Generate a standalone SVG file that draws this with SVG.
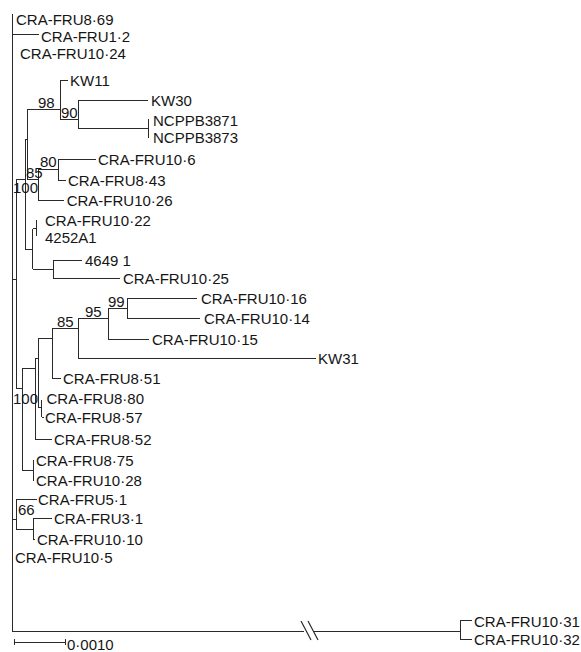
<svg xmlns="http://www.w3.org/2000/svg" width="581" height="652" viewBox="0 0 581 652">
<style>
.e{fill:none;stroke:#2a2a2a;stroke-width:1;shape-rendering:crispEdges}
.s{fill:none;stroke:#2a2a2a;stroke-width:1.2}
text{font-family:"Liberation Sans",Arial,Helvetica,sans-serif;font-size:15px;fill:#151515}
</style>
<rect width="581" height="652" fill="#fff"/>
<g id="connectors">
<path class="e" d="M12 14V631M12 34H39M12 279H16M16 179V388M16 179H25M25 139V249M25 139H27M27 109V179M27 109H60M60 80V119M60 80H68M60 119H78M78 100V128M78 100H148M78 128H148M148 119V138M27 179H38M38 169.5V200M38 169.5H58M58 159V180M58 159H96M58 180H66M38 200H64M25 249H32.7M32.7 228.5V269M32.7 228.5H36.7M36.7 220V236M32.7 269H53.3M53.3 260V278M53.3 260H82M53.3 278H120"/>
<path class="e" d="M16 388H22M22 368V470M22 368H35M35 358V439M35 358H38.3M38.3 338V407.5M38.3 338H52.3M52.3 328V378M52.3 378H61M52.3 328H78.3M78.3 318V358M78.3 358H316M78.3 318H108.3M108.3 308V339M108.3 339H149M108.3 308H127M127 298V318.5M127 298H197M127 318.5H200M38.3 407.5H41.7M41.7 400V417M41.7 417H44M35 439H52M22 470H33.3M33.3 460V481"/>
<path class="e" d="M12 519H16M16 499V529M16 499H37M16 529H33M33 518V539M33 518H52M33 539H35"/>
<path class="e" d="M12 631H304M314 631H460M460 620V639M460 620H472M460 639H472"/>
<path class="s" d="M301 621L311 640M308 621L318 640"/>
</g>
<g id="leaves">
<g id="n-CRA-FRU8-69"><text x="16" y="24.5">CRA-FRU8·69</text></g>
<g id="n-CRA-FRU1-2"><text x="41" y="41.5">CRA-FRU1·2</text></g>
<g id="n-CRA-FRU10-24"><text x="20" y="58.5">CRA-FRU10·24</text></g>
<g id="n-KW11"><text x="70" y="85.5">KW11</text></g>
<g id="n-KW30"><text x="151" y="105.5">KW30</text></g>
<g id="n-NCPPB3871"><text x="153" y="125.5">NCPPB3871</text></g>
<g id="n-NCPPB3873"><text x="153" y="142.5">NCPPB3873</text></g>
<g id="n-CRA-FRU10-6"><text x="98" y="165">CRA-FRU10·6</text></g>
<g id="n-CRA-FRU8-43"><text x="68" y="185.5">CRA-FRU8·43</text></g>
<g id="n-CRA-FRU10-26"><text x="66.7" y="205.5">CRA-FRU10·26</text></g>
<g id="n-CRA-FRU10-22"><text x="45" y="225.5">CRA-FRU10·22</text></g>
<g id="n-4252A1"><text x="45" y="242.5">4252A1</text></g>
<g id="n-4649-1"><text x="85" y="265.5">4649 1</text></g>
<g id="n-CRA-FRU10-25"><text x="123" y="283.5">CRA-FRU10·25</text></g>
<g id="n-CRA-FRU10-16"><text x="201" y="303.5">CRA-FRU10·16</text></g>
<g id="n-CRA-FRU10-14"><text x="204" y="324">CRA-FRU10·14</text></g>
<g id="n-CRA-FRU10-15"><text x="152" y="345">CRA-FRU10·15</text></g>
<g id="n-KW31"><text x="318" y="363.5">KW31</text></g>
<g id="n-CRA-FRU8-51"><text x="63" y="384">CRA-FRU8·51</text></g>
<g id="n-CRA-FRU8-80"><text x="46.5" y="404">CRA-FRU8·80</text></g>
<g id="n-CRA-FRU8-57"><text x="45" y="423">CRA-FRU8·57</text></g>
<g id="n-CRA-FRU8-52"><text x="54" y="444.5">CRA-FRU8·52</text></g>
<g id="n-CRA-FRU8-75"><text x="36" y="465.5">CRA-FRU8·75</text></g>
<g id="n-CRA-FRU10-28"><text x="36" y="485.5">CRA-FRU10·28</text></g>
<g id="n-CRA-FRU5-1"><text x="38" y="505">CRA-FRU5·1</text></g>
<g id="n-CRA-FRU3-1"><text x="54" y="524">CRA-FRU3·1</text></g>
<g id="n-CRA-FRU10-10"><text x="37" y="544.5">CRA-FRU10·10</text></g>
<g id="n-CRA-FRU10-5"><text x="15" y="563">CRA-FRU10·5</text></g>
<g id="n-CRA-FRU10-31"><text x="474" y="626.5">CRA-FRU10·31</text></g>
<g id="n-CRA-FRU10-32"><text x="474" y="644.5">CRA-FRU10·32</text></g>
</g>
<g id="support">
<text x="38" y="107.5">98</text>
<text x="61" y="117.5">90</text>
<text x="40" y="167">80</text>
<text x="26" y="177.5">85</text>
<text x="13" y="192.5">100</text>
<text x="108" y="307">99</text>
<text x="85" y="317">95</text>
<text x="57" y="327">85</text>
<text x="13" y="403.5">100</text>
<text x="18" y="515">66</text>
</g>
<g id="scale-bar">
<path class="e" d="M14 642H65M14 639V645M65 639V645"/>
<text x="67" y="649.5">0·0010</text>
</g>
</svg>
